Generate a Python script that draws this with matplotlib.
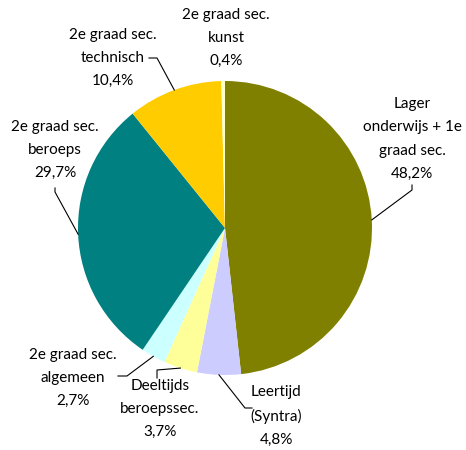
import numpy as np
import matplotlib.pyplot as plt

labels = ['Lager\nonderwijs + 1e\ngraad sec.', 'Leertijd\n(Syntra)', 'Deeltijds\nberoepssec.',
          '2e graad sec.\nalgemeen', '2e graad sec.\nberoeps', '2e graad sec.\ntechnisch',
          '2e graad sec.\nkunst']
values = [48.2, 4.8, 3.7, 2.7, 29.7, 10.4, 0.4]
colors = ['#808000', '#CCCCFF', '#FFFF99', '#CCFFFF', '#008080', '#FFCC00', '#FFFFCC']

# label centre and elbow of leader line, in pixels (y from top)
label_pos = [(412, 139), (276, 416), (160, 409), (73, 378), (55, 150), (113, 58), (226, 38)]
elbows = [[(412, 185), (412, 190)], [(252, 408), (245, 408)], [(157, 378), (157, 370)],
          [(118, 376), (127, 376)], [(55, 188), (55, 192)], [(149, 58), (157, 58)], None]

W, H = 466, 450
fig = plt.figure(figsize=(W / 100, H / 100), dpi=100)
ax = fig.add_axes([0, 0, 1, 1])

wedges, _ = ax.pie(values, colors=colors, startangle=90, counterclock=False,
                   center=(225, H - 228), radius=147, normalize=True,
                   wedgeprops=dict(linewidth=0))
ax.set_xlim(0, W)
ax.set_ylim(0, H)
ax.set_aspect('equal')
ax.axis('off')

for w, lab, v, pos, el in zip(wedges, labels, values, label_pos, elbows):
    txt = lab + '\n' + f'{v:.1f}'.replace('.', ',') + '%'
    ax.text(pos[0], H - pos[1], txt, ha='center', va='center', fontsize=11,
            family=['Lato', 'DejaVu Sans'], linespacing=1.85, color='black')
    if el is None:
        continue
    ang = np.deg2rad((w.theta1 + w.theta2) / 2)
    ex = w.center[0] + w.r * np.cos(ang)
    ey = w.center[1] + w.r * np.sin(ang)
    xs = [p[0] for p in el] + [ex]
    ys = [H - p[1] for p in el] + [ey]
    ax.plot(xs, ys, color='black', lw=0.8)

fig.savefig('out.png', dpi=100)
